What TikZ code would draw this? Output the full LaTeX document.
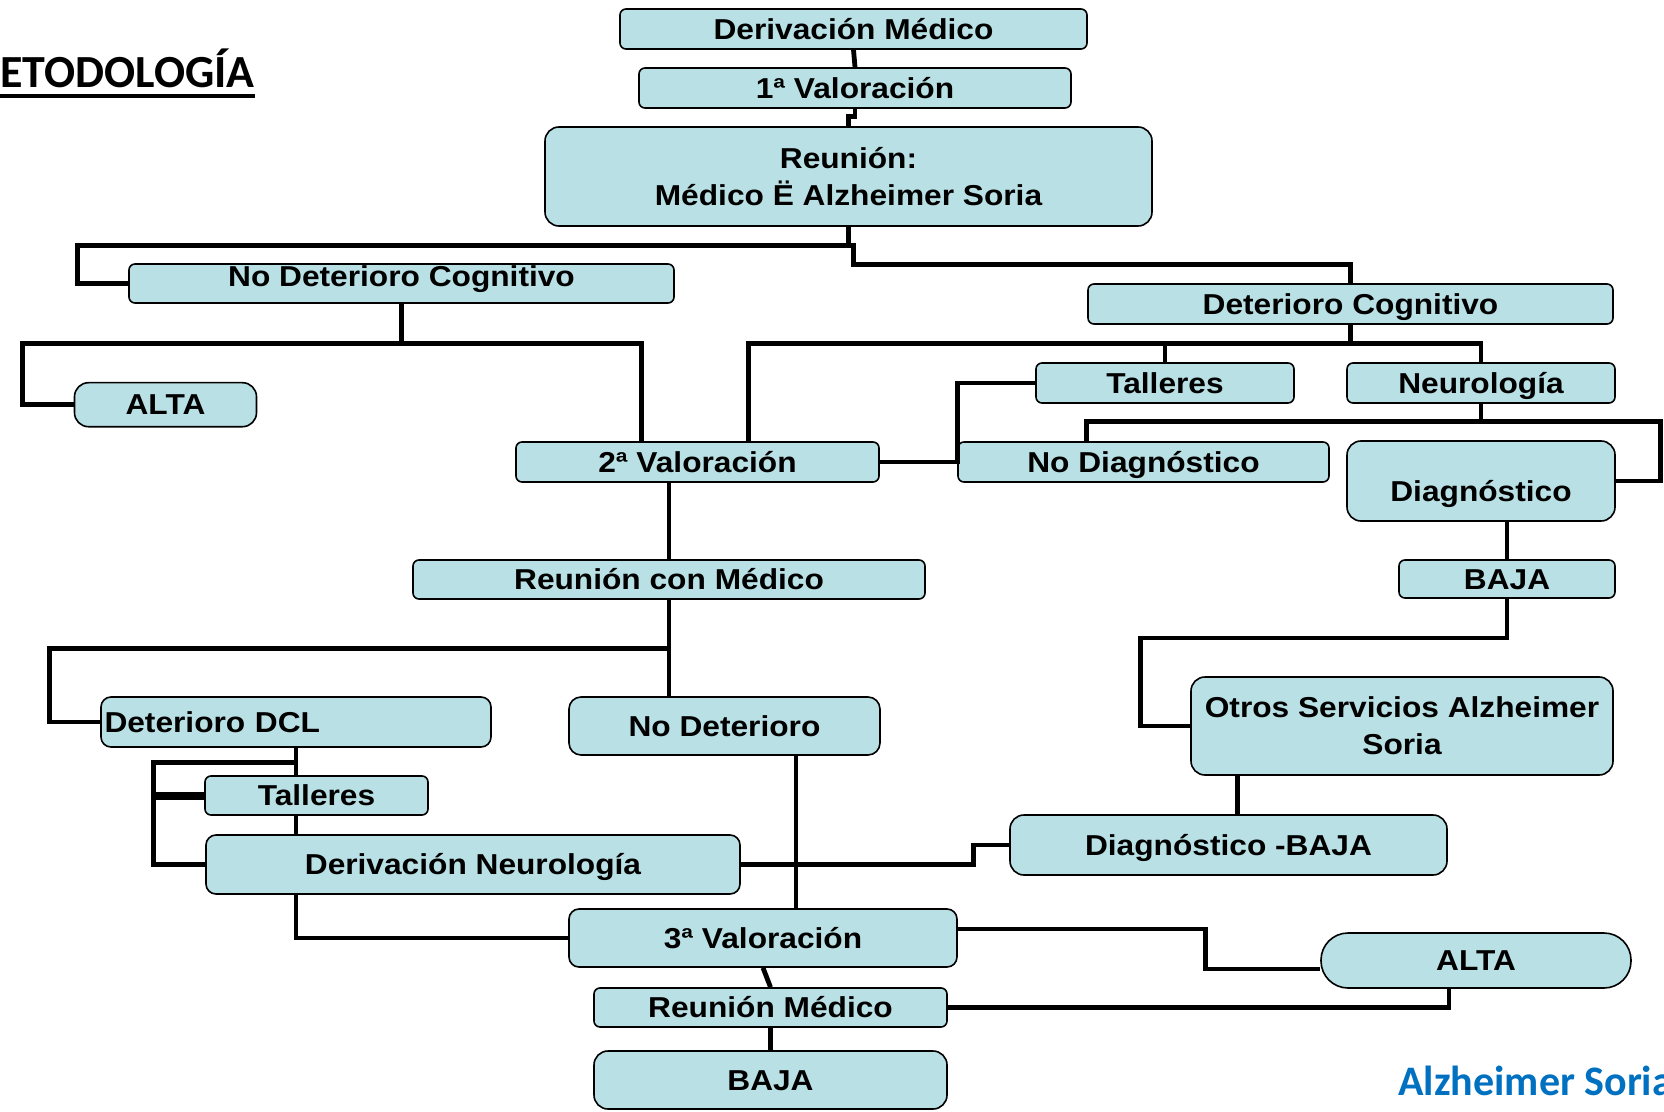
\documentclass[tikz,border=0pt]{standalone}
\usepackage{fontspec}
\usetikzlibrary{calc}
\newfontfamily\boxfont[FakeStretch=1.1]{Liberation Sans}
\newfontfamily\titlefont{Carlito}
\newfontfamily\logofont{Carlito}
\definecolor{boxfill}{RGB}{185,224,228}
\definecolor{logoblue}{RGB}{0,112,192}
\begin{document}
\begin{tikzpicture}[x=0.5pt,y=-0.5pt,
  box/.style={draw=black, line width=0.8pt, fill=boxfill, rounded corners=3pt,
    inner sep=0pt, align=center,
    font=\boxfont\bfseries\fontsize{14.4pt}{18.5pt}\selectfont},
  sl/.style={text height=10.3pt, text depth=0pt},
  conn/.style={draw=black, line width=2.4pt},
]
\fill[white] (0,0) rectangle (1664,1112);
\useasboundingbox (0,0) rectangle (1664,1112);

% title and logo
\node[anchor=base west, inner sep=0pt, font=\titlefont\bfseries\fontsize{23pt}{26pt}\selectfont] (title) at (0,88) {ETODOLOGÍA};
\draw[line width=1.8pt] ([yshift=-4pt]title.base west) -- ([yshift=-4pt]title.base east);
\node[anchor=base west, inner sep=0pt, text=logoblue, font=\logofont\bfseries\fontsize{21pt}{24pt}\selectfont] (logo) at (1398,1095) {Alzheimer Soria};

% nodes
\node[box, sl, minimum width=233.5pt, minimum height=20pt] (der) at (853.5,29) {Derivación Médico};
\node[box, sl, minimum width=216pt, minimum height=20pt] (val1) at (855,88) {1ª Valoración};
\node[box, minimum width=303.5pt, minimum height=49.5pt, rounded corners=7pt] (reu) at (848.5,176.5) {Reunión:\\Médico Ë Alzheimer Soria};
\node[box, minimum width=272.5pt, minimum height=19.5pt, text height=10.3pt, text depth=7.5pt] (ndc) at (401.5,283.5) {No Deterioro Cognitivo};
\node[box, sl, minimum width=262.5pt, minimum height=20pt] (dc) at (1350.5,304) {Deterioro Cognitivo};
\node[box, sl, minimum width=91pt, minimum height=22pt, rounded corners=7pt] (alta1) at (165.5,404.7) {ALTA};
\node[box, sl, minimum width=129pt, minimum height=20pt] (tal1) at (1165,383) {Talleres};
\node[box, sl, minimum width=134pt, minimum height=20pt] (neu) at (1481,383) {Neurología};
\node[box, sl, minimum width=181.5pt, minimum height=20pt] (val2) at (697.5,462) {2ª Valoración};
\node[box, sl, minimum width=185.5pt, minimum height=20pt] (nodiag) at (1143.5,462) {No Diagnóstico};
\node[box, minimum width=134pt, minimum height=40pt, rounded corners=7pt, text height=20.8pt, text depth=0pt] (diag) at (1481,481) {Diagnóstico};
\node[box, sl, minimum width=108pt, minimum height=19pt] (baja1) at (1507,579) {BAJA};
\node[box, sl, minimum width=256pt, minimum height=19.5pt] (rcm) at (669,579.5) {Reunión con Médico};
\node[box, sl, inner xsep=1.75pt, text width=191.5pt, align=left, minimum height=25pt, rounded corners=5pt] (dcl) at (296,722) {Deterioro DCL};
\node[box, sl, minimum width=155.5pt, minimum height=29pt, rounded corners=6pt] (nodet) at (724.5,726) {No Deterioro};
\node[box, minimum width=211pt, minimum height=49pt, rounded corners=7pt] (otros) at (1402,726) {Otros Servicios Alzheimer\\Soria};
\node[box, sl, minimum width=111.5pt, minimum height=19.5pt] (tal2) at (316.5,795.5) {Talleres};
\node[box, sl, minimum width=267pt, minimum height=29.5pt, rounded corners=5pt] (dneu) at (473,864.5) {Derivación Neurología};
\node[box, sl, minimum width=218.5pt, minimum height=30pt, rounded corners=7pt] (dbaja) at (1228.5,845) {Diagnóstico -BAJA};
\node[box, sl, minimum width=194pt, minimum height=29pt, rounded corners=5pt] (val3) at (763,938) {3ª Valoración};
\node[box, sl, minimum width=155pt, minimum height=27.5pt, rounded corners=13.5pt] (alta2) at (1476,960.5) {ALTA};
\node[box, sl, minimum width=176.5pt, minimum height=19.5pt] (rm) at (770.5,1007.5) {Reunión Médico};
\node[box, sl, minimum width=176.5pt, minimum height=29pt, rounded corners=7pt] (baja2) at (770.5,1080) {BAJA};

% connectors
\draw[conn] (der.south) -- (val1.north);
\draw[conn] (val1.south) -- ++(0,8) -| (reu.north);
\draw[conn] (reu.south) -- ++(0,19) -| ($(ndc.west)+(-51,0)$) -- (ndc.west);
\draw[conn] (reu.south) -- ++(0,19) -- ++(5,0) -- ++(0,19) -| (dc.north);
\draw[conn] (ndc.south) -- ++(0,40) -| ($(alta1.west)+(-51,0)$) -- (alta1.west);
\draw[conn] (ndc.south) -- ++(0,40) -| ($(val2.north west)+(126,0)$);
\draw[conn] (dc.south) -- ++(0,19) -| ($(val2.north west)+(233,0)$);
\draw[conn] (dc.south) -- ++(0,19) -| (tal1.north);
\draw[conn] (dc.south) -- ++(0,19) -| (neu.north);
\draw[conn] (tal1.west) -| (nodiag.west) -- (val2.east);
\draw[conn] (neu.south) -- ++(0,18) -| ($(nodiag.north west)+(129,0)$);
\draw[conn] (neu.south) -- ++(0,18) -| ($(diag.east)+(45,0)$) -- (diag.east);
\draw[conn] (baja1.north) -- (baja1.north |- diag.south);
\draw[conn] (baja1.south) |- ($(otros.west)+(-50,-88)$) |- (otros.west);
\coordinate (k1) at ($(otros.south west)+(47,0)$);
\draw[conn] (k1) -- (k1 |- dbaja.north);
\draw[conn] (dbaja.west) -- ++(-36,0) |- (dneu.east);
\draw[conn] (rcm.north) -- (rcm.north |- val2.south);
\draw[conn] (rcm.south) -- ++(0,49) -| ($(dcl.west)+(-51,0)$) -- (dcl.west);
\draw[conn] (rcm.south) -- (rcm.south |- nodet.north);
\coordinate (jl) at ($(dneu.west)+(-52,0)$);
\draw[conn] (dcl.south) -- (dcl.south |- tal2.north);
\draw[conn] (dcl.south) -- ++(0,15) -| (jl) -- (dneu.west);
\draw[conn, line width=4pt] (tal2.west) -- (tal2.west -| jl);
\draw[conn] (dcl.south |- tal2.south) -- (dcl.south |- dneu.north);
\draw[conn] (dcl.south |- dneu.south) |- (val3.west);
\coordinate (nd) at ($(nodet.south)+(71.5,0)$);
\draw[conn] (nd) -- (nd |- val3.north);
\draw[conn] (val3.south) -- (rm.north);
\draw[conn] (rm.south) -- (baja2.north);
\draw[conn] ($(val3.east)+(0,-9)$) -- ++(248,0) |- ($(alta2.west)+(0,8.5)$);
\coordinate (a2b) at ($(alta2.south)+(-27,0)$);
\draw[conn] (rm.east) -| (a2b);
\end{tikzpicture}
\end{document}
